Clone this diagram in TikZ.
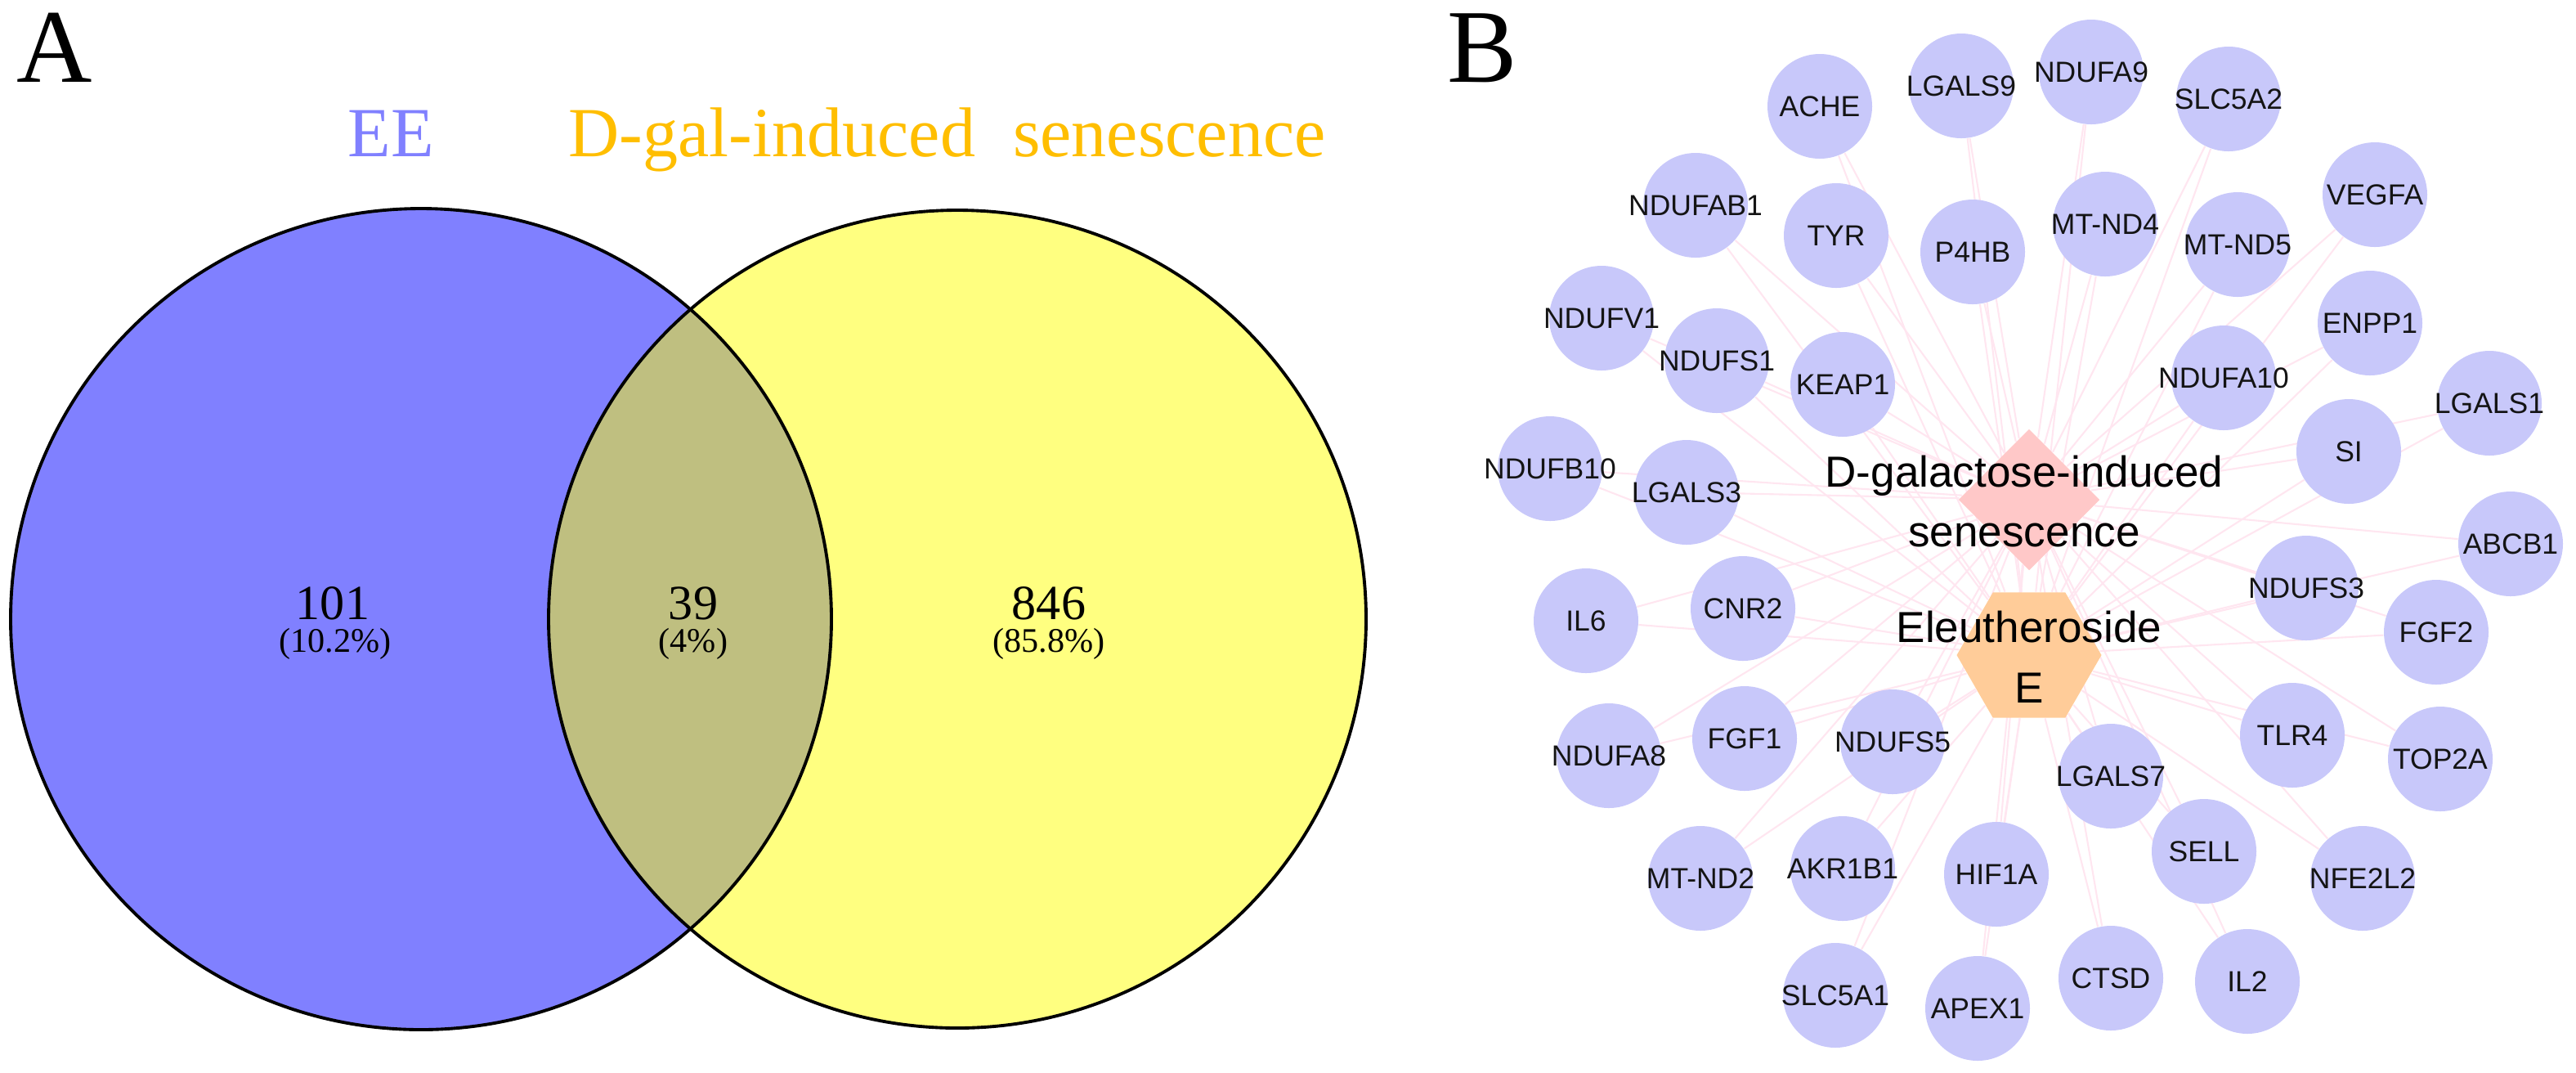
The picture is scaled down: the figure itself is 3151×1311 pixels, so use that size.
\documentclass[tikz,border=0pt]{standalone}
\usepackage{fontspec}
\setmainfont{Liberation Serif}
\newfontfamily\arialf{Liberation Sans}
\usetikzlibrary{shapes.geometric,backgrounds}

\definecolor{vblue}{RGB}{128,128,255}
\definecolor{vyellow}{RGB}{255,255,128}
\definecolor{voverlap}{RGB}{191,191,128}
\definecolor{eetext}{RGB}{128,128,255}
\definecolor{dgtext}{RGB}{255,190,0}
\definecolor{genefill}{RGB}{200,200,250}
\definecolor{dgfill}{RGB}{255,200,200}
\definecolor{eefill}{RGB}{255,204,153}
\definecolor{edgepink}{RGB}{255,230,240}

\tikzset{
  panellabel/.style={inner sep=0pt, anchor=base west, font=\fontsize{36.4}{40}\selectfont},
  setlabel/.style={inner sep=0pt, anchor=base, font=\fontsize{24.5}{28}\selectfont},
  countlabel/.style={inner sep=0pt, anchor=base, font=\fontsize{17.1}{20}\selectfont},
  pctlabel/.style={inner sep=0pt, anchor=base, font=\fontsize{12}{14}\selectfont},
  gene/.style={circle, fill=genefill, minimum size=12.8mm, inner sep=0pt,
     text=black!92, font=\arialf\fontsize{10.1}{12}\selectfont},
  centertext/.style={inner sep=0pt, align=center, text=black,
     font=\arialf\fontsize{15.1}{21}\selectfont},
  netedge/.style={draw=edgepink, line width=0.6pt},
  vennline/.style={draw=black, line width=1.1pt}
}

\begin{document}
\begin{tikzpicture}[x=0.1mm, y=-0.1mm]
\useasboundingbox (0,0) rectangle (3151,1311);

% ---------- Panel A: Venn diagram ----------
\node[panellabel] (labA) at (20,100) {A};
\coordinate (cl) at (515,757);
\coordinate (cr) at (1171,757);
\fill[vblue] (cl) circle (50.2mm);
\fill[vyellow] (cr) circle (50.0mm);
\begin{scope}
  \clip (cl) circle (50.2mm);
  \fill[voverlap] (cr) circle (50.0mm);
\end{scope}
\draw[vennline] (cl) circle (50.2mm);
\draw[vennline] (cr) circle (50.0mm);

\node[setlabel, text=eetext] (ttlEE) at (478,191) {EE};
\node[setlabel, anchor=base west, text=dgtext] (ttlDG) at (695,191) {D-gal-induced\hspace{4.6mm}senescence};

\node[countlabel] (n101) at (407,757) {101};
\node[pctlabel] (p101) at (410,797) {(10.2\%)};
\node[countlabel] (n39) at (848,757) {39};
\node[pctlabel] (p39) at (848,797) {(4\%)};
\node[countlabel] (n846) at (1283,757) {846};
\node[pctlabel] (p846) at (1283,797) {(85.8\%)};

% ---------- Panel B: network ----------
\node[panellabel] (labB) at (1770,100) {B};

\node[diamond, fill=dgfill, minimum width=17.3mm, minimum height=17.3mm, inner sep=0pt] (dg) at (2482,611) {};
\node[regular polygon, regular polygon sides=6, fill=eefill, minimum size=17.7mm, inner sep=0pt] (ee) at (2482,801) {};
\node[centertext] (dgtxt) at (2476,613) {D-galactose-induced\\senescence};
\node[centertext] (eetxt) at (2482,803) {Eleutheroside\\E};

\foreach \nm/\lb/\px/\py in {
  ACHE/ACHE/2226/130, LGALS9/LGALS9/2399/105, NDUFA9/NDUFA9/2558/88,
  SLC5A2/SLC5A2/2726/121, NDUFAB1/NDUFAB1/2074/251, TYR/TYR/2246/288,
  P4HB/P4HB/2413/308, MTND4/MT-ND4/2575/274, MTND5/MT-ND5/2737/299,
  VEGFA/VEGFA/2905/238, NDUFV1/NDUFV1/1959/389, NDUFS1/NDUFS1/2100/441,
  KEAP1/KEAP1/2254/470, NDUFA10/NDUFA10/2720/462, ENPP1/ENPP1/2899/395,
  LGALS1/LGALS1/3045/493, SI/SI/2873/552, NDUFB10/NDUFB10/1896/573,
  LGALS3/LGALS3/2063/602, ABCB1/ABCB1/3071/665, NDUFS3/NDUFS3/2821/719,
  FGF2/FGF2/2980/773, IL6/IL6/1940/759, CNR2/CNR2/2132/744,
  TLR4/TLR4/2804/899, TOP2A/TOP2A/2985/928, NDUFA8/NDUFA8/1968/924,
  FGF1/FGF1/2134/903, NDUFS5/NDUFS5/2315/907, LGALS7/LGALS7/2582/949,
  MTND2/MT-ND2/2080/1074, AKR1B1/AKR1B1/2254/1062, HIF1A/HIF1A/2442/1069,
  SELL/SELL/2696/1041, NFE2L2/NFE2L2/2890/1074, SLC5A1/SLC5A1/2245/1217,
  APEX1/APEX1/2419/1233, CTSD/CTSD/2582/1196, IL2/IL2/2749/1200}{
  \node[gene] (\nm) at (\px,\py) {\makebox[0pt]{\lb}};
}

\begin{scope}[on background layer]
\foreach \nm in {ACHE,LGALS9,NDUFA9,SLC5A2,NDUFAB1,TYR,P4HB,MTND4,MTND5,VEGFA,
  NDUFV1,NDUFS1,KEAP1,NDUFA10,ENPP1,LGALS1,SI,NDUFB10,LGALS3,ABCB1,NDUFS3,
  FGF2,IL6,CNR2,TLR4,TOP2A,NDUFA8,FGF1,NDUFS5,LGALS7,MTND2,AKR1B1,HIF1A,
  SELL,NFE2L2,SLC5A1,APEX1,CTSD,IL2}{
  \draw[netedge] (\nm) -- (dg);
  \draw[netedge] (\nm) -- (ee);
}
\end{scope}
\end{tikzpicture}
\end{document}
